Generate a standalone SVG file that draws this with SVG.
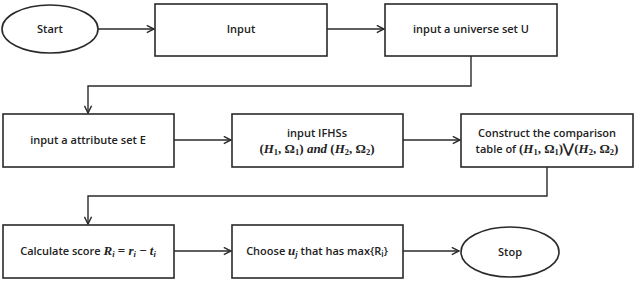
<svg xmlns="http://www.w3.org/2000/svg" width="640" height="281" viewBox="0 0 640 281">
<style>
.box{fill:#fff;stroke:#2a2a2a;stroke-width:1.6}
.ln{fill:none;stroke:#2a2a2a;stroke-width:1.4}
.t{font-family:"Open Sans","Liberation Sans",sans-serif;font-size:11px;font-weight:600;fill:#222;text-anchor:middle}
.m{font-family:"Liberation Serif",serif;font-style:italic;font-weight:bold;font-size:13px}
.n{font-family:"Liberation Serif",serif;font-style:normal;font-weight:bold;font-size:13px}
.s{font-size:8.5px}
</style>
<defs>
<marker id="ah" viewBox="0 0 10 10" refX="9" refY="5" markerWidth="9" markerHeight="9" markerUnits="userSpaceOnUse" orient="auto">
<path d="M1,1 L9,5 L1,9" fill="none" stroke="#2a2a2a" stroke-width="1.6"/>
</marker>
</defs>
<rect width="640" height="281" fill="#fff"/>
<g id="connectors">
<line class="ln" x1="98" y1="29" x2="154" y2="29" marker-end="url(#ah)"/>
<line class="ln" x1="327" y1="29" x2="384" y2="29" marker-end="url(#ah)"/>
<polyline class="ln" points="471,56 471,86 88,86 88,113" marker-end="url(#ah)"/>
<line class="ln" x1="174" y1="140" x2="231" y2="140" marker-end="url(#ah)"/>
<line class="ln" x1="403" y1="140" x2="460" y2="140" marker-end="url(#ah)"/>
<polyline class="ln" points="547,167 547,196 88,196 88,224" marker-end="url(#ah)"/>
<line class="ln" x1="174" y1="251" x2="231" y2="251" marker-end="url(#ah)"/>
<line class="ln" x1="403" y1="251" x2="459" y2="251" marker-end="url(#ah)"/>
</g>
<g id="start">
<ellipse class="box" cx="50" cy="29" rx="48" ry="24"/>
<text class="t" x="50" y="33">Start</text>
</g>
<g id="input">
<rect class="box" x="155" y="4" width="172" height="52"/>
<text class="t" x="241" y="33">Input</text>
</g>
<g id="universe">
<rect class="box" x="385" y="4" width="172" height="52"/>
<text class="t" x="471" y="33">input a universe set U</text>
</g>
<g id="attribute">
<rect class="box" x="3" y="114" width="171" height="53"/>
<text class="t" x="88" y="144">input a attribute set E</text>
</g>
<g id="ifhss">
<rect class="box" x="232" y="114" width="171" height="53"/>
<text class="t" x="317" y="137">input IFHSs</text>
<text class="t" x="317" y="153"><tspan class="n">(</tspan><tspan class="m">H</tspan><tspan class="n s" dy="2">1</tspan><tspan class="n" dy="-2">, Ω</tspan><tspan class="n s" dy="2">1</tspan><tspan class="n" dy="-2">) </tspan><tspan class="m">and</tspan><tspan class="n"> (</tspan><tspan class="m">H</tspan><tspan class="n s" dy="2">2</tspan><tspan class="n" dy="-2">, Ω</tspan><tspan class="n s" dy="2">2</tspan><tspan class="n" dy="-2">)</tspan></text>
</g>
<g id="construct">
<rect class="box" x="461" y="114" width="172" height="53"/>
<text class="t" x="547" y="137">Construct the comparison</text>
<text class="t" x="547" y="153">table of <tspan class="n">(</tspan><tspan class="m">H</tspan><tspan class="n s" dy="2">1</tspan><tspan class="n" dy="-2">, Ω</tspan><tspan class="n s" dy="2">1</tspan><tspan class="n" dy="-2">)⋁(</tspan><tspan class="m">H</tspan><tspan class="n s" dy="2">2</tspan><tspan class="n" dy="-2">, Ω</tspan><tspan class="n s" dy="2">2</tspan><tspan class="n" dy="-2">)</tspan></text>
</g>
<g id="calculate">
<rect class="box" x="3" y="225" width="171" height="53"/>
<text class="t" x="88" y="255">Calculate score <tspan class="m">R</tspan><tspan class="m s" dy="2">i</tspan><tspan class="n" dy="-2"> = </tspan><tspan class="m">r</tspan><tspan class="m s" dy="2">i</tspan><tspan class="n" dy="-2"> − </tspan><tspan class="m">t</tspan><tspan class="m s" dy="2">i</tspan></text>
</g>
<g id="choose">
<rect class="box" x="232" y="225" width="171" height="53"/>
<text class="t" x="317" y="255">Choose <tspan class="m">u</tspan><tspan class="m s" dy="2">j</tspan><tspan dy="-2"> that has max{R</tspan><tspan class="s" dy="2">i</tspan><tspan dy="-2">}</tspan></text>
</g>
<g id="stop">
<ellipse class="box" cx="510" cy="252" rx="49" ry="25"/>
<text class="t" x="510" y="256">Stop</text>
</g>
</svg>
